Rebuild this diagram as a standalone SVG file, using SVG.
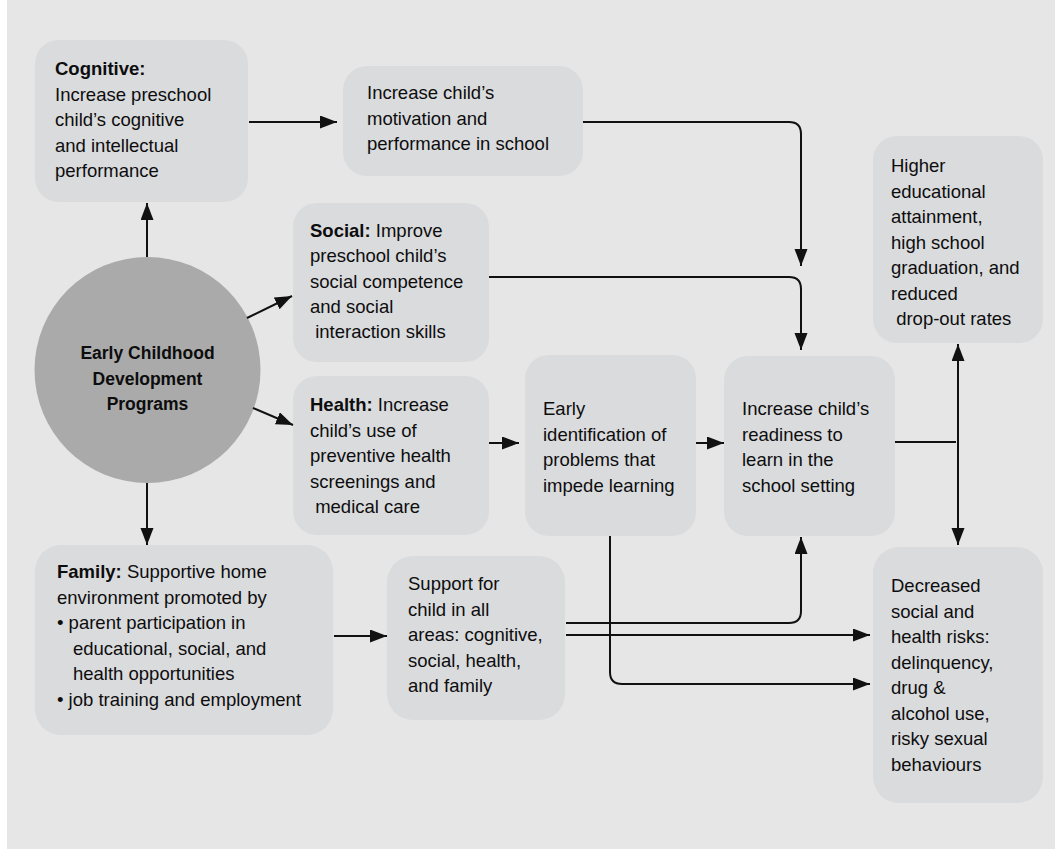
<svg xmlns="http://www.w3.org/2000/svg" width="1055" height="850" viewBox="0 0 1055 850">
<defs>
<style>
.box{fill:#dadbdd}
.t{font-family:"Liberation Sans",Arial,sans-serif;font-size:18.5px;fill:#0d0d0d}
.b{font-weight:bold}
.c{font-family:"Liberation Sans",Arial,sans-serif;font-size:17.5px;font-weight:bold;fill:#0d0d0d;text-anchor:middle}
.ln{fill:none;stroke:#111;stroke-width:2}
.arr{marker-end:url(#ah)}
</style>
<marker id="ah" markerUnits="userSpaceOnUse" markerWidth="18" markerHeight="14" refX="17" refY="6.5" orient="auto-start-reverse" viewBox="0 0 18 14">
<path d="M0,0 L17,6.5 L0,13 z" fill="#111"/>
</marker>
</defs>
<rect x="0" y="0" width="1055" height="850" fill="#ffffff"/>
<rect x="7" y="0" width="1048" height="849" fill="#e6e6e6"/>

<g id="cognitive">
<rect class="box" x="35" y="40" width="213" height="162" rx="24"/>
<text class="t" x="55" y="75"><tspan class="b">Cognitive:</tspan><tspan x="55" dy="25.5">Increase preschool</tspan><tspan x="55" dy="25.5">child’s cognitive</tspan><tspan x="55" dy="25.5">and intellectual</tspan><tspan x="55" dy="25.5">performance</tspan></text>
</g>

<g id="motivation">
<rect class="box" x="343" y="66" width="240" height="110" rx="24"/>
<text class="t" x="367" y="99">Increase child’s<tspan x="367" dy="25.5">motivation and</tspan><tspan x="367" dy="25.5">performance in school</tspan></text>
</g>

<g id="social">
<rect class="box" x="293" y="203" width="196" height="159" rx="24"/>
<text class="t" x="310" y="237"><tspan class="b">Social:</tspan> Improve<tspan x="310" dy="25.3">preschool child’s</tspan><tspan x="310" dy="25.3">social competence</tspan><tspan x="310" dy="25.3">and social</tspan><tspan x="310" dy="25.3"> interaction skills</tspan></text>
</g>

<g id="ecd">
<circle cx="147.5" cy="370" r="113" fill="#aaaaaa"/>
<text class="c" x="147.5" y="359">Early Childhood<tspan x="147.5" dy="25.5">Development</tspan><tspan x="147.5" dy="25.5">Programs</tspan></text>
</g>

<g id="health">
<rect class="box" x="293" y="376" width="196" height="159" rx="24"/>
<text class="t" x="310" y="411"><tspan class="b">Health:</tspan> Increase<tspan x="310" dy="25.5">child’s use of</tspan><tspan x="310" dy="25.5">preventive health</tspan><tspan x="310" dy="25.5">screenings and</tspan><tspan x="310" dy="25.5"> medical care</tspan></text>
</g>

<g id="early">
<rect class="box" x="525" y="355" width="171" height="181" rx="24"/>
<text class="t" x="543" y="415">Early<tspan x="543" dy="25.5">identification of</tspan><tspan x="543" dy="25.5">problems that</tspan><tspan x="543" dy="25.5">impede learning</tspan></text>
</g>

<g id="readiness">
<rect class="box" x="724" y="356" width="171" height="180" rx="24"/>
<text class="t" x="742" y="415">Increase child’s<tspan x="742" dy="25.5">readiness to</tspan><tspan x="742" dy="25.5">learn in the</tspan><tspan x="742" dy="25.5">school setting</tspan></text>
</g>

<g id="higher">
<rect class="box" x="873" y="136" width="170" height="207" rx="24"/>
<text class="t" x="891" y="172">Higher<tspan x="891" dy="25.5">educational</tspan><tspan x="891" dy="25.5">attainment,</tspan><tspan x="891" dy="25.5">high school</tspan><tspan x="891" dy="25.5">graduation, and</tspan><tspan x="891" dy="25.5">reduced</tspan><tspan x="891" dy="25.5">  drop-out rates</tspan></text>
</g>

<g id="family">
<rect class="box" x="35" y="545" width="298" height="190" rx="26"/>
<text class="t" x="57" y="578"><tspan class="b">Family:</tspan> Supportive home<tspan x="57" dy="25.5">environment promoted by</tspan><tspan x="57" dy="25.5">• parent participation in</tspan><tspan x="73" dy="25.5">educational, social, and</tspan><tspan x="73" dy="25.5">health opportunities</tspan><tspan x="57" dy="25.5">• job training and employment</tspan></text>
</g>

<g id="support">
<rect class="box" x="387" y="556" width="178" height="164" rx="26"/>
<text class="t" x="408" y="590">Support for<tspan x="408" dy="25.5">child in all</tspan><tspan x="408" dy="25.5">areas: cognitive,</tspan><tspan x="408" dy="25.5">social, health,</tspan><tspan x="408" dy="25.5">and family</tspan></text>
</g>

<g id="decreased">
<rect class="box" x="873" y="547" width="170" height="256" rx="26"/>
<text class="t" x="891" y="592">Decreased<tspan x="891" dy="25.5">social and</tspan><tspan x="891" dy="25.5">health risks:</tspan><tspan x="891" dy="25.5">delinquency,</tspan><tspan x="891" dy="25.5">drug &amp;</tspan><tspan x="891" dy="25.5">alcohol use,</tspan><tspan x="891" dy="25.5">risky sexual</tspan><tspan x="891" dy="25.5">behaviours</tspan></text>
</g>

<g id="connectors">
<path class="ln arr" d="M147,257 V203"/>
<path class="ln arr" d="M249,122 H337"/>
<path class="ln arr" d="M247,318 L292,296"/>
<path class="ln arr" d="M253,408 L293,425"/>
<path class="ln arr" d="M147,483 V545"/>
<path class="ln arr" d="M583,122 H789 Q801,122 801,134 V266"/>
<path class="ln arr" d="M489,277 H789 Q801,277 801,289 V350"/>
<path class="ln arr" d="M489,443 H519"/>
<path class="ln arr" d="M696,443 H724"/>
<path class="ln" d="M895,442 H956"/>
<path class="ln arr" d="M958,442 V344"/>
<path class="ln arr" d="M958,442 V545"/>
<path class="ln arr" d="M334,636 H387"/>
<path class="ln arr" d="M566,623 H789 Q801,623 801,611 V537"/>
<path class="ln arr" d="M566,635 H870"/>
<path class="ln arr" d="M610,536 V672 Q610,684 622,684 H870"/>
</g>
</svg>
